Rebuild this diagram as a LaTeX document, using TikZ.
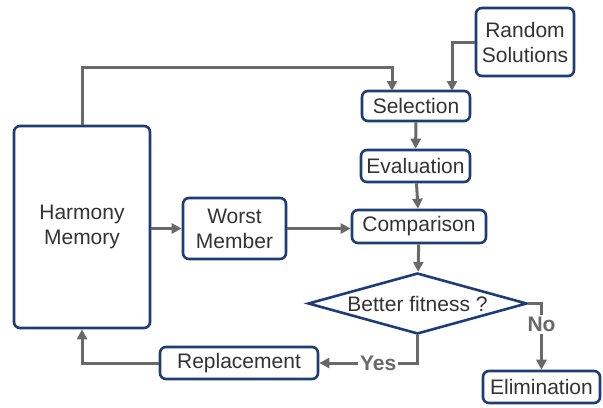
\documentclass[tikz,border=0pt]{standalone}
\usepackage{fontspec}
\setmainfont{Liberation Sans}
\usepackage{tikz}
\usetikzlibrary{arrows.meta,shapes.geometric}
\definecolor{navyb}{HTML}{1D3C78}
\definecolor{linegray}{HTML}{696969}
\definecolor{txtgray}{HTML}{333333}
\tikzset{
  ar/.style={-{Triangle[length=5pt,width=5pt]},line width=1.5pt,linegray},
  box/.style={draw=navyb,line width=1.3pt,rounded corners=3pt,fill=white,align=center,inner sep=0pt,text=txtgray,font=\fontsize{10.5}{12.5}\selectfont},
  lbl/.style={font=\bfseries\fontsize{10.5}{12}\selectfont,text=linegray,fill=white,inner sep=1pt}
}

\begin{document}
\begin{tikzpicture}[x=0.5pt,y=-0.5pt]
\useasboundingbox (0,0) rectangle (603,407);
\node[box,minimum width=49pt,minimum height=34pt] (rand) at (525,42) {Random\\Solutions};
\node[box,minimum width=54pt,minimum height=15pt] (sel) at (416,106) {Selection};
\node[box,minimum width=54.5pt,minimum height=16pt] (eval) at (415.5,166) {Evaluation};
\node[box,minimum width=67pt,minimum height=16.5pt] (comp) at (419,226.5) {Comparison};
\node[box,shape=diamond,rounded corners=0pt,aspect=3.6,minimum width=109.5pt,minimum height=30.5pt] (fit) at (417.5,303.5) {Better fitness ?};
\node[box,minimum width=58.5pt,minimum height=16pt] (elim) at (541.5,387) {Elimination};
\node[box,minimum width=79pt,minimum height=16pt] (repl) at (239,363) {Replacement};
\node[box,minimum width=68pt,minimum height=101pt] (hm) at (82,227) {Harmony\\Memory};
\node[box,minimum width=51.5pt,minimum height=30.5pt] (worst) at (234.5,228.5) {Worst\\Member};
% connectors
\draw[ar] (hm.north) |- (392,67) -- (392,91);
\draw[ar] (rand.west) -| (452,91);
\draw[ar] (sel) -- (eval);
\draw[ar] (eval) -- (comp);
\draw[ar] (comp) -- (fit);
\draw[ar] (hm.east |- worst) -- (worst);
\draw[ar] (worst) -- (worst -| comp.west);
\draw[ar] (fit.south) |- (repl.east) node[lbl,pos=0.70] (yes) {Yes};
\draw[ar] (fit.east) -| (elim.north) node[lbl,pos=0.66] (no) {No};
\draw[ar] (repl.west) -| (hm.south);
\end{tikzpicture}
\end{document}
